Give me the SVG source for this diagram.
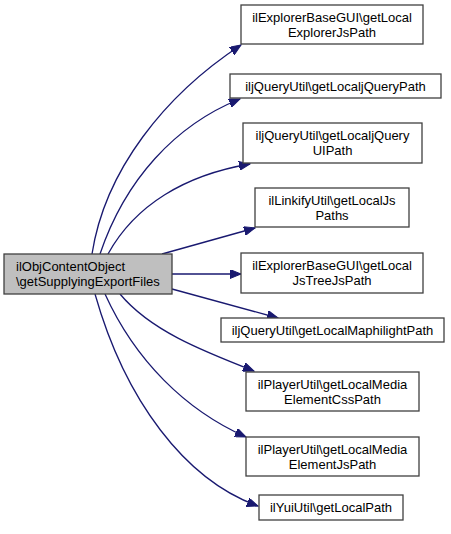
<svg xmlns="http://www.w3.org/2000/svg" width="451" height="534" viewBox="0 0 451 534">
<style>
  .node rect { fill: #ffffff; stroke: #404040; stroke-width: 1.3; }
  .root rect { fill: #bfbfbf; stroke: #404040; stroke-width: 1.3; }
  text { font-family: "Liberation Sans", Arial, Helvetica, sans-serif; font-size: 13px; fill: #000000; text-anchor: middle; }
  .root text { text-anchor: start; }
  .edges path { fill: none; stroke: #191970; stroke-width: 1.3; }
</style>
<defs>
  <marker id="arrow" markerUnits="userSpaceOnUse" markerWidth="12" markerHeight="9" refX="11" refY="4.5" orient="auto">
    <path d="M0,0 L11,4.5 L0,9 Z" fill="#191970" stroke="#191970" stroke-width="1"/>
  </marker>
</defs>
<rect width="451" height="534" fill="#ffffff"/>
<g id="edges" class="edges">
  <path d="M92,254 C105,170 165,95 241,45" marker-end="url(#arrow)"/>
  <path d="M100,254 C125,180 175,125 240,99" marker-end="url(#arrow)"/>
  <path d="M108,254 C135,205 185,175 250,164" marker-end="url(#arrow)"/>
  <path d="M162,254 L255,228" marker-end="url(#arrow)"/>
  <path d="M172,274 L241,274" marker-end="url(#arrow)"/>
  <path d="M172,289 L278,318" marker-end="url(#arrow)"/>
  <path d="M120,294 C150,330 200,350 254,371" marker-end="url(#arrow)"/>
  <path d="M105,294 C135,360 185,410 246,437" marker-end="url(#arrow)"/>
  <path d="M95,294 C125,400 185,480 258,506" marker-end="url(#arrow)"/>
</g>
<g id="n0" class="root">
  <rect x="4" y="254" width="168" height="40"/>
  <text x="16" y="270.5">ilObjContentObject</text>
  <text x="16" y="286">\getSupplyingExportFiles</text>
</g>
<g id="n1" class="node">
  <rect x="241" y="5" width="182" height="39"/>
  <text x="332" y="21.5">ilExplorerBaseGUI\getLocal</text>
  <text x="332" y="37">ExplorerJsPath</text>
</g>
<g id="n2" class="node">
  <rect x="230" y="74" width="211" height="24"/>
  <text x="335.5" y="90.5">iljQueryUtil\getLocaljQueryPath</text>
</g>
<g id="n3" class="node">
  <rect x="243" y="123" width="179" height="40"/>
  <text x="332.5" y="139.5">iljQueryUtil\getLocaljQuery</text>
  <text x="332.5" y="155">UIPath</text>
</g>
<g id="n4" class="node">
  <rect x="255" y="188" width="154" height="39"/>
  <text x="332" y="204.5">ilLinkifyUtil\getLocalJs</text>
  <text x="332" y="220">Paths</text>
</g>
<g id="n5" class="node">
  <rect x="241" y="253" width="182" height="40"/>
  <text x="332" y="269.5">ilExplorerBaseGUI\getLocal</text>
  <text x="332" y="285">JsTreeJsPath</text>
</g>
<g id="n6" class="node">
  <rect x="221" y="318" width="223" height="24"/>
  <text x="332.5" y="334.5">iljQueryUtil\getLocalMaphilightPath</text>
</g>
<g id="n7" class="node">
  <rect x="246" y="372" width="173" height="39"/>
  <text x="332.5" y="388.5">ilPlayerUtil\getLocalMedia</text>
  <text x="332.5" y="404">ElementCssPath</text>
</g>
<g id="n8" class="node">
  <rect x="246" y="437" width="173" height="39"/>
  <text x="332.5" y="453.5">ilPlayerUtil\getLocalMedia</text>
  <text x="332.5" y="469">ElementJsPath</text>
</g>
<g id="n9" class="node">
  <rect x="259" y="495" width="144" height="25"/>
  <text x="331" y="512">ilYuiUtil\getLocalPath</text>
</g>
</svg>
